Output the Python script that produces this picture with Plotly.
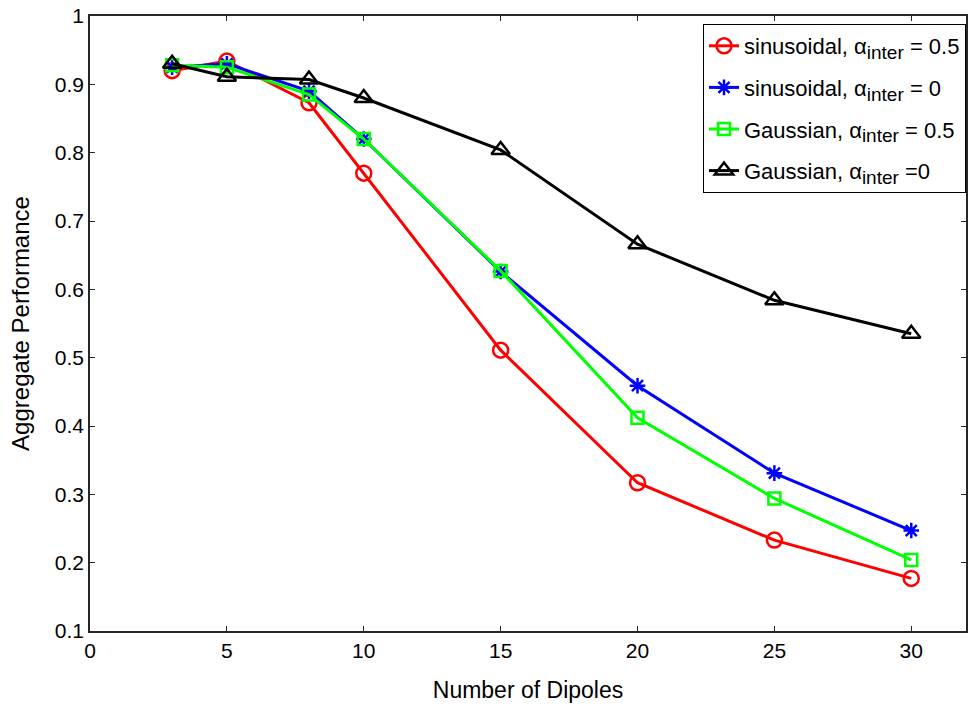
import plotly.graph_objects as go

x_dipoles = [3, 5, 8, 10, 15, 20, 25, 30]
sin_a05 = [0.920, 0.934, 0.873, 0.770, 0.511, 0.317, 0.233, 0.177]
sin_a0 = [0.925, 0.930, 0.890, 0.820, 0.626, 0.459, 0.331, 0.247]
gau_a05 = [0.928, 0.925, 0.885, 0.820, 0.627, 0.412, 0.294, 0.204]
gau_a0 = [0.930, 0.911, 0.907, 0.880, 0.804, 0.666, 0.584, 0.535]

SUB = '<sub><span style="font-size:19px">inter</span></sub>'
names = [
    "sinusoidal, α" + SUB + " = 0.5",
    "sinusoidal, α" + SUB + " = 0",
    "Gaussian, α" + SUB + " = 0.5",
    "Gaussian, α" + SUB + " =0",
]
series = [sin_a05, sin_a0, gau_a05, gau_a0]
colors = ["#ff0000", "#0000ff", "#00ff00", "#000000"]
symbols = ["circle-open", "asterisk-open", "square-open", "triangle-up-open"]
sizes = [15, 13, 12, 16]

FONT = "Liberation Sans, Arial, sans-serif"

fig = go.Figure()
for i, (nm, ys, c, s, sz) in enumerate(zip(names, series, colors, symbols, sizes)):
    fig.add_trace(go.Scatter(
        x=x_dipoles, y=ys, name=nm, mode="lines+markers", legendgroup="g%d" % i,
        line=dict(color=c, width=3),
        marker=dict(symbol=s, size=sz, color=c, line=dict(color=c, width=2.5)),
    ))

axis_common = dict(
    showline=True, linecolor="#262626", linewidth=1.5, mirror="allticks",
    ticks="inside", ticklen=5, tickcolor="#262626", tickwidth=1,
    showgrid=False, zeroline=False,
)

fig.update_layout(
    width=972, height=706,
    margin=dict(l=90, r=4, t=14, b=75),
    paper_bgcolor="white", plot_bgcolor="white",
    xaxis=dict(range=[0, 32], tickvals=[0, 5, 10, 15, 20, 25, 30],
               tickfont=dict(family=FONT, size=21, color="black"),
               title=dict(text="Number of Dipoles", standoff=21,
                          font=dict(family=FONT, size=23, color="black")),
               **axis_common),
    yaxis=dict(range=[0.1, 1.0], tickvals=[0.1, 0.2, 0.3, 0.4, 0.5, 0.6, 0.7, 0.8, 0.9, 1.0],
               ticktext=["0.1", "0.2", "0.3", "0.4", "0.5", "0.6", "0.7", "0.8", "0.9", "1"],
               tickfont=dict(family=FONT, size=21, color="black"),
               title=dict(text="Aggregate Performance", standoff=18,
                          font=dict(family=FONT, size=24, color="black")),
               **axis_common),
    legend=dict(
        x=1.0, y=0.987, xanchor="right", yanchor="top",
        bgcolor="white", bordercolor="black", borderwidth=1,
        font=dict(family=FONT, size=22, color="black"),
        itemwidth=30, traceorder="grouped", tracegroupgap=10,
    ),
    showlegend=True,
)

fig.write_html("out.html")
